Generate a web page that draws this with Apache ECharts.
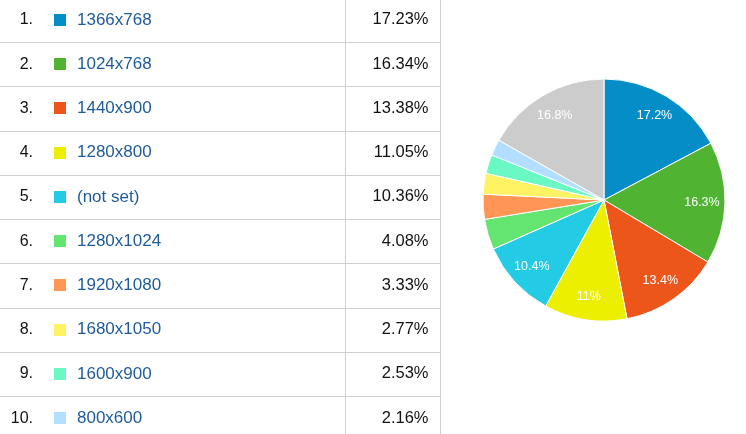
<!DOCTYPE html>
<html>
<head>
<meta charset="utf-8">
<script src="https://cdn.jsdelivr.net/npm/echarts@6/dist/echarts.min.js"></script>
<style>
html,body{margin:0;padding:0;background:#fff;}
#chart{width:746px;height:434px;}
</style>
</head>
<body>
<div id="chart"></div>
<script>
// ---- data ----
const categories = ['1366x768','1024x768','1440x900','1280x800','(not set)','1280x1024','1920x1080','1680x1050','1600x900','800x600'];
const shares = [17.23,16.34,13.38,11.05,10.36,4.08,3.33,2.77,2.53,2.16];
const otherShare = 16.77;
const colors = ['#058DC7','#50B432','#ED561B','#EDEF00','#24CBE5','#64E572','#FF9655','#FFF263','#6AF9C4','#B2DEFF'];
const otherColor = '#CCCCCC';
const pieLabels = ['17.2%','16.3%','13.4%','11%','10.4%','','','','','','16.8%'];

// ---- layout ----
const FONT = '"Liberation Sans", Arial, Helvetica, sans-serif';
const ROW_H = 44.25;
const LINE0 = 42;
const TABLE_W = 440;
const COL_SPLIT = 345.5;

const chart = echarts.init(document.getElementById('chart'), null, {renderer:'canvas'});

const graphics = [];
// horizontal row lines
for (let k = 0; k < categories.length - 1; k++) {
  const y = Math.round(LINE0 + ROW_H * k) + 0.5;
  graphics.push({type:'line', silent:true, shape:{x1:0,y1:y,x2:TABLE_W,y2:y}, style:{stroke:'#cfcfcf', lineWidth:1}});
}
// vertical lines
[COL_SPLIT, TABLE_W + 0.5].forEach(x => {
  graphics.push({type:'line', silent:true, shape:{x1:x,y1:0,x2:x,y2:434}, style:{stroke:'#cfcfcf', lineWidth:1}});
});
categories.forEach((c, i) => {
  const cy = LINE0 + ROW_H * i - ROW_H / 2;
  graphics.push({type:'text', silent:true, style:{text:(i+1)+'.', x:33, y:cy, fill:'#111', font:'16px '+FONT, align:'right', verticalAlign:'middle', textAlign:'right', textVerticalAlign:'middle'}});
  graphics.push({type:'rect', silent:true, shape:{x:54, y:Math.round(cy)-6, width:12, height:12}, style:{fill:colors[i]}});
  graphics.push({type:'text', silent:true, style:{text:c, x:77, y:cy, fill:'#1f5b99', font:'17px '+FONT, align:'left', verticalAlign:'middle', textAlign:'left', textVerticalAlign:'middle'}});
  graphics.push({type:'text', silent:true, style:{text:shares[i].toFixed(2)+'%', x:428.5, y:cy, fill:'#111', font:'16.5px '+FONT, align:'right', verticalAlign:'middle', textAlign:'right', textVerticalAlign:'middle'}});
});

const pieData = categories.map((c, i) => ({name:c, value:shares[i], itemStyle:{color:colors[i]}}));
pieData.push({name:'Other', value:otherShare, itemStyle:{color:otherColor}});

const labelData = pieData.map((d, i) => ({name:d.name, value:d.value, label:{formatter:pieLabels[i]}}));

chart.setOption({
  animation:false,
  graphic:{elements:graphics},
  series:[
    {
      type:'pie', center:[604,200], radius:[0,121], startAngle:90, clockwise:true,
      silent:true, label:{show:false}, labelLine:{show:false},
      itemStyle:{borderColor:'#ffffff', borderWidth:1},
      emphasis:{disabled:true},
      data:pieData
    },
    {
      type:'pie', center:[604,200], radius:[70,120], startAngle:90, clockwise:true,
      silent:true, labelLine:{show:false},
      itemStyle:{color:'rgba(0,0,0,0)'},
      emphasis:{disabled:true},
      label:{show:true, position:'inside', color:'#fff', fontSize:12.5, fontFamily:FONT, textBorderWidth:0},
      data:labelData
    }
  ]
});
</script>
</body>
</html>
